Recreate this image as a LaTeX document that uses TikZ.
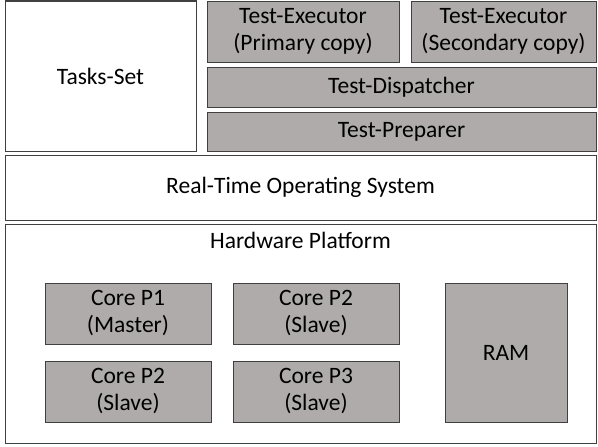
\documentclass[tikz,border=0pt]{standalone}
\usepackage{fontspec}
\setmainfont{Carlito}
\usetikzlibrary{positioning}
\definecolor{hwgray}{HTML}{AFABAB}
\definecolor{edgegray}{HTML}{404040}

\begin{document}
\begin{tikzpicture}[x=1pt, y=-1pt,
    layer/.style={rectangle, draw=edgegray, line width=1pt, fill=white, inner sep=0pt, align=center, font=\fontsize{23.5}{27}\selectfont},
    unit/.style={layer, fill=hwgray}
  ]
    \useasboundingbox (0,0) rectangle (598,447);

    \node[layer, minimum width=191pt, minimum height=150pt] (tasks) at (100.5, 76) {Tasks-Set};
    \node[unit, minimum width=192pt, minimum height=61pt] (execprim) at (303, 31.5) {Test-Executor\\(Primary copy)};
    \node[unit, minimum width=185pt, minimum height=61pt] (execsec) at (503.5, 31.5) {Test-Executor\\(Secondary copy)};
    \node[unit, minimum width=389pt, minimum height=40pt] (dispatch) at (401.5, 87) {Test-Dispatcher};
    \node[unit, minimum width=389pt, minimum height=39pt] (prep) at (401.5, 131.5) {Test-Preparer};

    \node[layer, minimum width=591pt, minimum height=65pt] (rtos) at (300.5, 187.5) {Real-Time Operating System};

    \node[layer, minimum width=591pt, minimum height=219pt] (hw) at (300.5, 333.5) {};
    \node[font=\fontsize{23.5}{27}\selectfont, below=5pt of hw.north] (hwlabel) {Hardware Platform};

    \node[unit, minimum width=166pt, minimum height=61pt] (core1) at (128, 313.5) {Core P1\\(Master)};
    \node[unit, minimum width=166pt, minimum height=61pt] (core2a) at (316, 313.5) {Core P2\\(Slave)};
    \node[unit, minimum width=166pt, minimum height=61pt] (core2b) at (128, 391.5) {Core P2\\(Slave)};
    \node[unit, minimum width=166pt, minimum height=61pt] (core3) at (316, 391.5) {Core P3\\(Slave)};
    \node[unit, minimum width=122pt, minimum height=139pt] (ram) at (506, 352.5) {RAM};
  \end{tikzpicture}
\end{document}
